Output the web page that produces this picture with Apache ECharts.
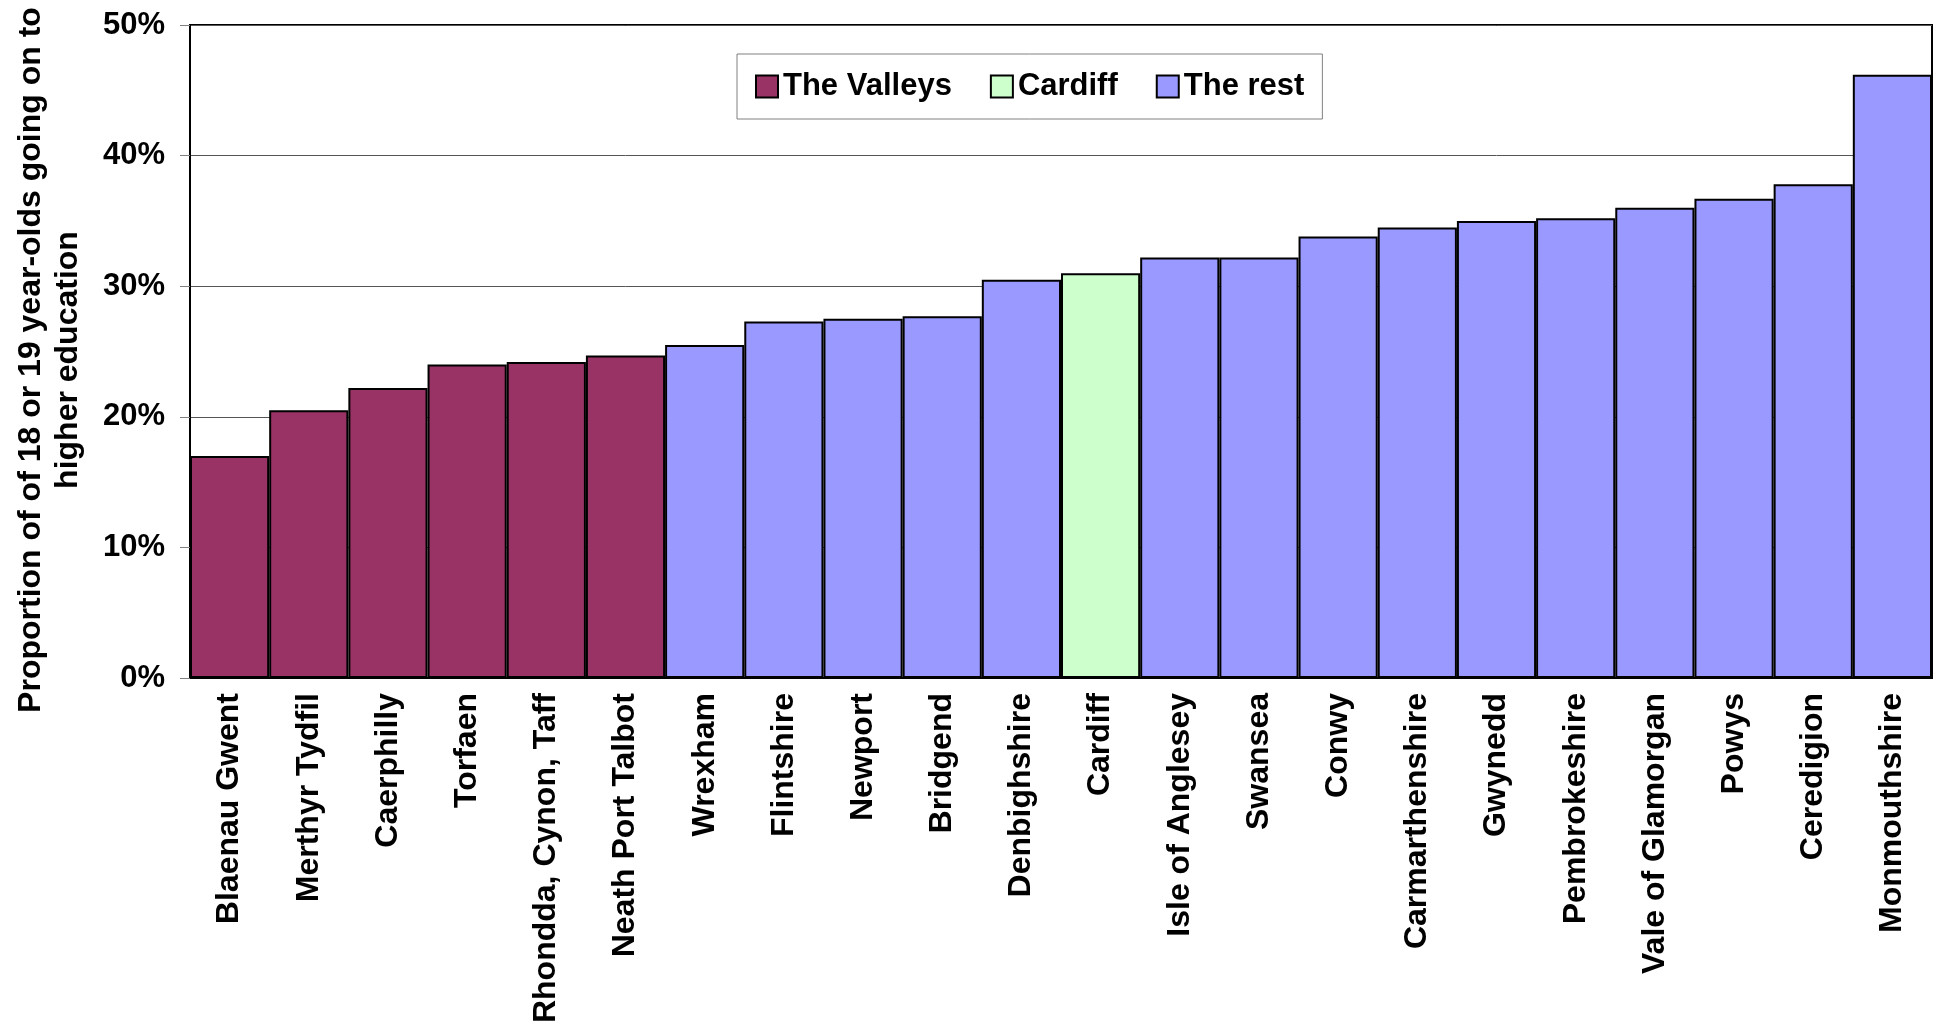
<!DOCTYPE html>
<html>
<head>
<meta charset="utf-8">
<style>
  html, body { margin: 0; padding: 0; background: #fff; }
  #main { width: 1935px; height: 1024px; }
</style>
</head>
<body>
<div id="main"></div>
<script src="https://cdn.jsdelivr.net/npm/echarts@6/dist/echarts.min.js"></script>
<script type="text/javascript">
// data (percent)
var areas = ['Blaenau Gwent', 'Merthyr Tydfil', 'Caerphilly', 'Torfaen', 'Rhondda, Cynon, Taff',
    'Neath Port Talbot', 'Wrexham', 'Flintshire', 'Newport', 'Bridgend', 'Denbighshire', 'Cardiff',
    'Isle of Anglesey', 'Swansea', 'Conwy', 'Carmarthenshire', 'Gwynedd', 'Pembrokeshire',
    'Vale of Glamorgan', 'Powys', 'Ceredigion', 'Monmouthshire'];
var rates = [17.0, 20.5, 22.2, 24.0, 24.2, 24.7, 25.5, 27.3, 27.5, 27.7, 30.5, 31.0,
    32.2, 32.2, 33.8, 34.5, 35.0, 35.2, 36.0, 36.7, 37.8, 46.2];
var groupOf = ['The Valleys', 'The Valleys', 'The Valleys', 'The Valleys', 'The Valleys', 'The Valleys',
    'The rest', 'The rest', 'The rest', 'The rest', 'The rest', 'Cardiff',
    'The rest', 'The rest', 'The rest', 'The rest', 'The rest', 'The rest',
    'The rest', 'The rest', 'The rest', 'The rest'];
var groups = ['The Valleys', 'Cardiff', 'The rest'];
var groupColors = ['#993366', '#CCFFCC', '#9999FF'];
var yTicks = [0, 10, 20, 30, 40, 50];

var font = 'Liberation Sans, Arial, sans-serif';
var myChart = echarts.init(document.getElementById('main'));

// one series per group, overlapping in the same slot
var series = groups.map(function (g, gi) {
    return {
        name: g,
        type: 'bar',
        barWidth: '100%',
        barGap: '-100%',
        itemStyle: { color: groupColors[gi], borderColor: '#000', borderWidth: 2 },
        data: rates.map(function (v, i) { return groupOf[i] === g ? v : '-'; })
    };
});

var option = {
    animation: false,
    textStyle: { fontFamily: font },
    grid: {
        left: 190, right: 3, top: 25, bottom: 346,
        outerBoundsMode: 'none',
        show: true, borderColor: '#000', borderWidth: 2
    },
    legend: {
        data: groups,
        left: 737,
        top: 54,
        padding: [17, 18, 17, 18],
        itemWidth: 22,
        itemHeight: 22,
        itemGap: 38,
        itemTextGap: 10,
        icon: 'rect',
        borderColor: '#808080',
        borderWidth: 1,
        backgroundColor: '#fff',
        textStyle: { fontSize: 31, fontWeight: 'bold', color: '#000', lineHeight: 30, fontFamily: font }
    },
    xAxis: {
        type: 'category',
        data: areas,
        axisLine: { lineStyle: { color: '#000', width: 2 } },
        axisTick: { length: 10, lineStyle: { color: '#808080' } },
        axisLabel: { interval: 0, rotate: 90, margin: 15, fontSize: 32, fontWeight: 'bold', color: '#000', fontFamily: font }
    },
    yAxis: {
        type: 'value',
        min: yTicks[0],
        max: yTicks[yTicks.length - 1],
        interval: 10,
        name: 'Proportion of of 18 or 19 year-olds going on to\nhigher education',
        nameLocation: 'middle',
        nameGap: 103,
        nameTextStyle: { fontSize: 32, fontWeight: 'bold', color: '#000', lineHeight: 37, fontFamily: font, padding: [0, 17, 0, 0] },
        axisLine: { show: true, lineStyle: { color: '#000', width: 2 } },
        axisTick: { show: true, length: 10, lineStyle: { color: '#808080' } },
        axisLabel: { formatter: '{value}%', margin: 25, fontSize: 31, fontWeight: 'bold', color: '#000', fontFamily: font },
        splitLine: { lineStyle: { color: '#555', width: 1 } }
    },
    series: series
};
myChart.setOption(option);
</script>
</body>
</html>
